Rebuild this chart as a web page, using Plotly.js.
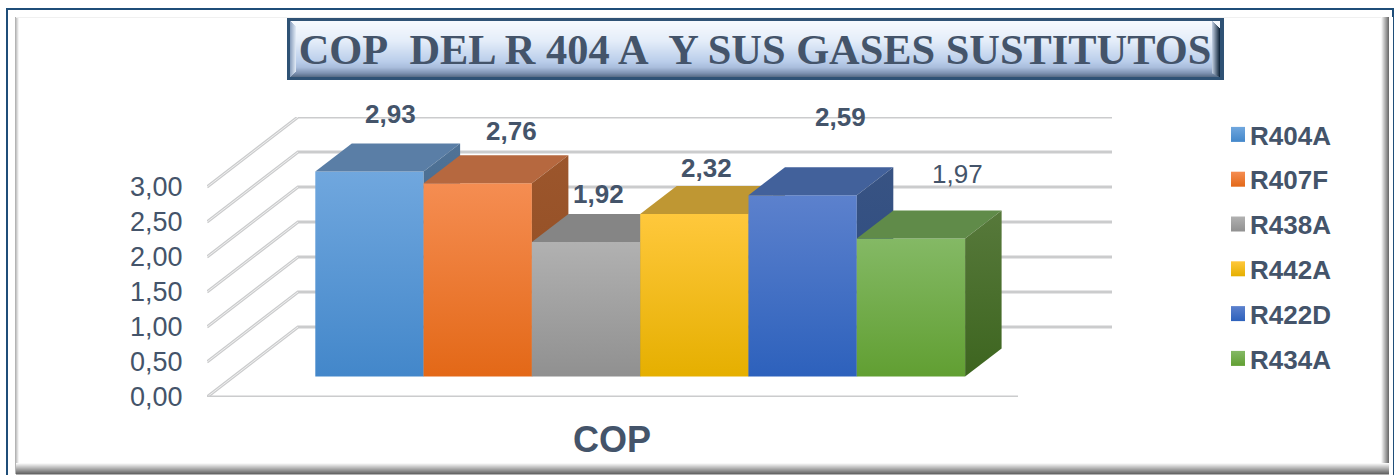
<!DOCTYPE html>
<html>
<head>
<meta charset="utf-8">
<script src="https://cdn.plot.ly/plotly-3.0.1.min.js"></script>
<style>html,body{margin:0;padding:0;background:#fff;overflow:hidden}#chart{width:1397px;height:475px}</style>
</head>
<body>
<div id="chart"></div>
<script>
// ---- data ----
const refrigerants = ['R404A','R407F','R438A','R442A','R422D','R434A'];
const copValues    = [2.93, 2.76, 1.92, 2.32, 2.59, 1.97];
const yTicks       = [0, 0.5, 1, 1.5, 2, 2.5, 3];
const categoryName = 'COP';
const chartTitle   = 'COP\u00a0 DEL R 404 A\u00a0 Y SUS GASES SUSTITUTOS';

// ---- styles ----
const INK = '#44546a';
const W = 1397, H = 475;
const M = {l:207, r:285, t:117, b:78};
const PW = W - M.l - M.r, PH = H - M.t - M.b;
const UX = 108.3;                    // px per bar width
const XMAX = PW / UX, YMAX = 4;      // y unit = 1 COP, depth of wall = 1 unit
const WALL_DX = 91 / UX, WALL_DY = 1;
const BAR_DX = 36.5 / UX, BAR_DY = 0.4, BASE = 0.293, X0 = 1.0;
const faces = [
  {hi:'#70a7de', lo:'#4387ca', top:'#5a7ea6', s1:'#4f7296', s2:'#3f6288'},
  {hi:'#f58d52', lo:'#e36817', top:'#b6683f', s1:'#9c562c', s2:'#8f4c22'},
  {hi:'#b1b1b1', lo:'#909090', top:'#858585', s1:'#6f6f6f', s2:'#5f5f5f'},
  {hi:'#ffc83c', lo:'#e5af00', top:'#bf9733', s1:'#a07d20', s2:'#8f6f10'},
  {hi:'#5c81cd', lo:'#2d61bc', top:'#42619b', s1:'#385383', s2:'#2a4a80'},
  {hi:'#84b965', lo:'#619f32', top:'#608b49', s1:'#57793b', s2:'#3d651f'}
];
const labelStyle = [
  {dx:3,  dy:29, bold:true},
  {dx:15, dy:24, bold:true},
  {dx:-6, dy:20, bold:true},
  {dx:-6, dy:18, bold:true},
  {dx:20, dy:50, bold:true},
  {dx:28, dy:37, bold:false}
];
const fmt = v => v.toFixed(2).replace('.', ',');

// ---- walls and floor lines ----
function gridLine(xs, ys, color, width){
  return {type:'scatter', mode:'lines', x:xs, y:ys, line:{color:color, width:width, simplify:false},
          showlegend:false, hoverinfo:'skip', cliponaxis:false};
}
const traces = [];
yTicks.forEach(v => {
  const xs = [0, WALL_DX, XMAX], ys = [v, v + WALL_DY, v + WALL_DY];
  traces.push(gridLine(xs, ys, '#cbcccd', 3.2));
  traces.push(gridLine(xs.slice(0,2), ys.slice(0,2), '#f0f0f0', 1));
});
traces.push(gridLine([0, XMAX - WALL_DX - 3 / UX], [0, 0], '#cbcccd', 3.2));

// ---- bars: one overlaid subplot each, so later bars hide earlier ones ----
const layoutAxes = {};
refrigerants.forEach((name, i) => {
  const n = i + 2, sfx = String(n);
  const f = faces[i], v = copValues[i];
  const xl = X0 + i, xr = xl + 1, yb = BASE, yt = BASE + v;
  layoutAxes['xaxis' + n] = {overlaying:'x', anchor:'y' + n, range:[0, XMAX], visible:false, fixedrange:true};
  layoutAxes['yaxis' + n] = {overlaying:'y', anchor:'x' + n, range:[0, YMAX], visible:false, fixedrange:true};
  traces.push({type:'bar', name:name, x:[xl + 0.5], y:[v], base:[yb], width:[1],
               xaxis:'x' + sfx, yaxis:'y' + sfx, legendgroup:name,
               marker:{color:f.hi, line:{width:0}}, cliponaxis:false, hoverinfo:'name+y'});
  traces.push({type:'scatter', mode:'lines', x:[xl, xr, xr + BAR_DX, xl + BAR_DX, xl],
               y:[yt, yt, yt + BAR_DY, yt + BAR_DY, yt], xaxis:'x' + sfx, yaxis:'y' + sfx,
               fill:'toself', fillcolor:f.top, line:{width:0}, showlegend:false, hoverinfo:'skip', cliponaxis:false});
  traces.push({type:'scatter', mode:'lines', x:[xr, xr, xr + BAR_DX, xr + BAR_DX, xr],
               y:[yb, yt, yt + BAR_DY, yb + BAR_DY, yb], xaxis:'x' + sfx, yaxis:'y' + sfx,
               fill:'toself', line:{width:0}, showlegend:false, hoverinfo:'skip', cliponaxis:false,
               fillgradient:{type:'vertical', colorscale:[[0, f.s2],[1, f.s1]]}});
});

// ---- value labels ----
const annotations = refrigerants.map((name, i) => ({
  xref:'x', yref:'y', x:X0 + i + 0.5 + BAR_DX / 2, y:BASE + copValues[i] + BAR_DY,
  xshift:labelStyle[i].dx, yshift:labelStyle[i].dy, showarrow:false,
  xanchor:'center', yanchor:'middle', text:labelStyle[i].bold ? '<b>' + fmt(copValues[i]) + '</b>' : fmt(copValues[i]),
  font:{family:'Liberation Sans, Arial, sans-serif', size:26, color:INK}
}));

// ---- frame and title plate (pixel helpers, decoration only) ----
const px = x => (x - M.l) / PW, py = y => 1 - (y - M.t) / PH;
const shapes = [];
function rect(x0, y0, x1, y1, fill){
  shapes.push({type:'rect', xref:'paper', yref:'paper', layer:'below', x0:px(x0), x1:px(x1), y0:py(y0), y1:py(y1),
               fillcolor:fill, line:{width:0}});
}
function mix(a, b, t){
  const p = c => [1,3,5].map(k => parseInt(c.substr(k,2),16));
  const A = p(a), B = p(b);
  return 'rgb(' + A.map((u,k) => Math.round(u + (B[k]-u)*t)).join(',') + ')';
}
// outer blue line
rect(6, 8, 1394, 480, '#1f4e79');
rect(8, 10, 1392, 480, '#ffffff');
// inner bevel
rect(15, 17, 1389, 474, '#e9e9e9');
for (let k = 0; k < 4; k++) rect(15 + k, 17, 16 + k, 474, mix('#b4b4b4', '#f4f4f4', k / 3));
for (let k = 0; k < 8; k++) rect(1381 + k, 17, 1382 + k, 474, mix('#f6f6f6', '#6f6f6f', k / 7));
rect(1389, 17, 1393, 480, '#ffffff');
for (let k = 0; k < 11; k++) rect(16, 463 + k, 1389, 464 + k, mix('#f8f8f8', '#666666', k / 10));
rect(16, 474, 1389, 476, '#b0b0b0');
rect(19, 18, 1381, 463, '#ffffff');
rect(16, 17, 1381, 18, '#f0f0f0');

// title plate
rect(287, 18, 1224, 80, '#2f5275');
const plateTop = 21, plateBot = 77;
const stops = [[0,'#f6f9fd'],[0.35,'#e4edf9'],[0.72,'#b9cdea'],[0.82,'#a9bddc'],[0.92,'#7f93b2'],[1,'#52667f']];
for (let y = plateTop; y < plateBot; y++) {
  const t = (y - plateTop) / (plateBot - plateTop);
  let j = 0; while (j < stops.length - 2 && t > stops[j+1][0]) j++;
  const c = mix(stops[j][1], stops[j+1][1], (t - stops[j][0]) / (stops[j+1][0] - stops[j][0]));
  rect(290, y, 1220, y + 1, c);
}
for (let k = 0; k < 6; k++) rect(290 + k, plateTop + k, 291 + k, plateBot - k, mix('#8ea3c0', '#dbe5f2', k / 5));
for (let k = 0; k < 8; k++) rect(1212 + k, plateTop + k, 1213 + k, plateBot - (7 - k) * 0.5, mix('#b9c7da', '#14293f', k / 7));

const layout = Object.assign({
  width:W, height:H, margin:{l:M.l, r:M.r, t:M.t, b:M.b, pad:0, autoexpand:false},
  paper_bgcolor:'#ffffff', plot_bgcolor:'rgba(0,0,0,0)', barmode:'overlay',
  showlegend:true,
  title:{text:'<b>' + chartTitle + '</b>', xref:'container', yref:'container', x:755 / W, xanchor:'center',
         y:1 - 49 / H, yanchor:'middle', font:{family:'Liberation Serif, Times New Roman, serif', size:42.4, color:INK}},
  xaxis:{range:[0, XMAX], showgrid:false, zeroline:false, showline:false, fixedrange:true,
         tickmode:'array', tickvals:[(612 - M.l) / UX], ticktext:['<b>' + categoryName + '</b>'],
         ticks:'outside', ticklen:11, tickcolor:'rgba(0,0,0,0)', tickangle:0,
         tickfont:{family:'Liberation Sans, Arial, sans-serif', size:36, color:INK}},
  yaxis:{range:[0, YMAX], showgrid:false, zeroline:false, showline:false, fixedrange:true,
         tickmode:'array', tickvals:yTicks, ticktext:yTicks.map(fmt),
         ticks:'outside', ticklen:18, tickcolor:'rgba(0,0,0,0)',
         tickfont:{family:'Liberation Sans, Arial, sans-serif', size:27, color:INK}},
  legend:{x:(1210 - M.l) / PW, xanchor:'left', y:py(111), yanchor:'top', traceorder:'grouped', tracegroupgap:8,
          maxheight:320, bgcolor:'rgba(0,0,0,0)', itemclick:false, itemdoubleclick:false,
          font:{family:'Liberation Sans, Arial, sans-serif', size:26, color:INK, weight:'bold'}},
  annotations:annotations, shapes:shapes
}, layoutAxes);

Plotly.newPlot('chart', traces, layout, {displayModeBar:false, responsive:false}).then(gd => {
  // vertical gradients on bar fronts and legend keys
  const svg = gd.querySelector('svg.main-svg');
  let defs = svg.querySelector('defs');
  const NS = 'http://www.w3.org/2000/svg';
  faces.forEach((f, i) => {
    const g = document.createElementNS(NS, 'linearGradient');
    g.setAttribute('id', 'barGrad' + i);
    g.setAttribute('x1', '0'); g.setAttribute('y1', '0'); g.setAttribute('x2', '0'); g.setAttribute('y2', '1');
    [[0, f.hi],[1, f.lo]].forEach(s => {
      const st = document.createElementNS(NS, 'stop');
      st.setAttribute('offset', s[0]); st.setAttribute('stop-color', s[1]);
      g.appendChild(st);
    });
    defs.appendChild(g);
  });
  gd.querySelectorAll('.barlayer .trace.bars').forEach((t, i) => {
    t.querySelectorAll('path').forEach(p => { p.style.fill = 'url(#barGrad' + i + ')'; });
  });
  gd.querySelectorAll('.legend .traces').forEach((t, i) => {
    t.querySelectorAll('.legendpoints path, .legendbar path, path.legendbar').forEach(p => {
      p.setAttribute('d', 'M15,7.5H1V-7.5H15Z');
      p.style.fill = 'url(#barGrad' + i + ')';
    });
  });
});
</script>
</body>
</html>
